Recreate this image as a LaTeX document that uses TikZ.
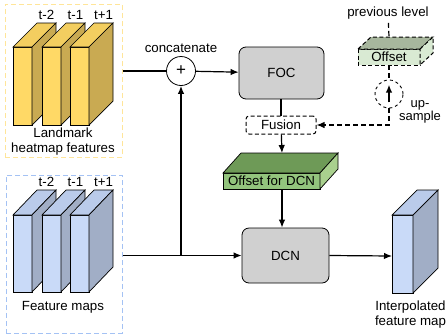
\documentclass[tikz,border=0pt]{standalone}
\usepackage{fontspec}
\setmainfont{Liberation Sans}
\usetikzlibrary{shapes,calc,positioning,arrows.meta}
\definecolor{lmfront}{HTML}{FFD966}
\definecolor{lmtop}{HTML}{F3CE60}
\definecolor{lmside}{HTML}{C9AA52}
\definecolor{fmfront}{HTML}{C9DAF8}
\definecolor{fmtop}{HTML}{BACBEA}
\definecolor{fmside}{HTML}{A1AEC6}
\definecolor{offfront}{HTML}{93C47D}
\definecolor{offtop}{HTML}{6E9A57}
\definecolor{offside}{HTML}{A9D08E}
\definecolor{prevfront}{HTML}{D9EAD3}
\definecolor{prevtop}{HTML}{A7B69D}
\definecolor{lmframe}{HTML}{FFE599}
\definecolor{fmframe}{HTML}{A4C2F4}
\definecolor{procgray}{HTML}{D0D0D0}

% 3d slab: x, y of front top-left, width, height, depth x, depth y, fills
\newcommand{\slab}[9]{%
  \filldraw[fill=#7] (#1,#2) rectangle ++(#3,#4);
  \filldraw[fill=#8] (#1,#2) -- ++(#5,-#6) -- ++(#3,0) -- ++(-#5,#6) -- cycle;
  \filldraw[fill=#9] (#1+#3,#2) -- ++(#5,-#6) -- ++(0,#4) -- ++(-#5,#6) -- cycle;
}

\tikzset{
  every node/.style={font=\fontsize{13.3}{15}\selectfont},
  procbox/.style={draw, fill=procgray, rounded corners=7pt, line width=0.8pt},
  frame/.style={draw, dashed, line width=1pt, dash pattern=on 5pt off 3pt},
  conn/.style={line width=1.2pt},
  dconn/.style={line width=1.2pt, dash pattern=on 5pt off 3pt},
  >={Latex[length=8pt,width=6.5pt]},
}

\begin{document}
\begin{tikzpicture}[x=1pt, y=-1pt, line width=0.7pt]
    \useasboundingbox (0,0) rectangle (446,335);
    \def\bw{19}
    \def\bh{78}
    \def\bd{24}

    % dashed frames
    \node[frame, draw=lmframe, minimum width=117, minimum height=153] (lmk) at (63.5,80.5) {};
    \node[frame, draw=fmframe, minimum width=116, minimum height=158] (fmap) at (64,254) {};

    % landmark heatmap features
    \foreach \x/\t in {13/t-2, 42/t-1, 70/t+1} {
      \slab{\x}{47}{\bw}{\bh}{\bd}{\bd}{lmfront}{lmtop}{lmside}
      \node[above] at (\x+\bw/2+\bd,47-\bd) {\t};
    }
    \node[align=center] (lmktext) at (63,142) {Landmark\\heatmap features};

    % feature maps
    \foreach \x/\t in {13/t-2, 42/t-1, 70/t+1} {
      \slab{\x}{215}{\bw}{77}{\bd}{25}{fmfront}{fmtop}{fmside}
      \node[above] at (\x+\bw/2+\bd,190) {\t};
    }
    \node (fmaptext) at (63,307) {Feature maps};

    % concatenation and FOC
    \node[draw, circle, fill=white, minimum size=29, inner sep=0pt, line width=0.8pt,
          font=\fontsize{17}{17}\selectfont] (plus) at (181,71) {+};
    \node[above=0pt of plus] (cattext) {concatenate};
    \node[procbox, minimum width=85, minimum height=52] (foc) at (281.5,73) {FOC};
    \node[draw, dashed, rounded corners=3pt, line width=1pt, dash pattern=on 4pt off 2.5pt,
          minimum width=70, minimum height=18, inner sep=0pt] (fusion) at (281,125) {Fusion};

    % offset for DCN
    \slab{223}{173}{97}{16}{18}{20}{offfront}{offtop}{offside}
    \node (offtext) at (271.5,181) {Offset for DCN};
    \coordinate (offtop) at (282,153);
    \coordinate (offbot) at (282,189);

    % DCN
    \node[procbox, minimum width=87, minimum height=55] (dcn) at (285.5,255.5) {DCN};

    % interpolated feature map
    \slab{392}{215}{21}{78}{25}{25}{fmfront}{fmtop}{fmside}
    \coordinate (interp) at (392,256);
    \node[align=center] (interptext) at (410.5,315) {Interpolated\\feature map};

    % previous level offset
    \node (prevtext) at (388,13) {previous level};
    \begin{scope}[dash pattern=on 4pt off 2.5pt, line width=1pt]
      \slab{358}{49}{62}{16}{13}{12}{prevfront}{prevtop}{prevfront}
    \end{scope}
    \node (prevoff) at (389,57) {Offset};
    \coordinate (prevtop) at (389,37);
    \coordinate (prevbot) at (389,65);
    \node[draw, circle, dashed, minimum size=28, inner sep=0pt, line width=0.9pt] (up) at (389,94) {};
    \draw[->, line width=2pt] ($(up.south)+(0,-6)$) -- ($(up.north)+(0,5)$);
    \node[align=center, font=\fontsize{13}{12}\selectfont] (uptext) at (420,112) {up-\\sample};

    % connectors
    \draw[conn] (lmk.east |- plus) -- (plus);
    \draw[conn, ->] (plus) -- (foc);
    \coordinate (split) at (plus |- dcn.west);
    \draw[conn] (fmap.east |- dcn.west) -- (split);
    \draw[conn, ->] (split) -- (dcn.west);
    \draw[conn, ->] (split) -- (plus);
    \draw[conn] (foc.south -| fusion.north) -- (fusion.north);
    \draw[conn, ->] (fusion) -- (offtop);
    \draw[conn, ->] (offbot) -- (offbot |- dcn.north);
    \draw[conn, ->] (dcn.east) -- (interp);
    \draw[dconn] (prevtext) -- (prevtop);
    \draw[dconn] (prevbot) -- (up);
    \draw[dconn, ->] (up) |- (fusion);
\end{tikzpicture}
\end{document}
